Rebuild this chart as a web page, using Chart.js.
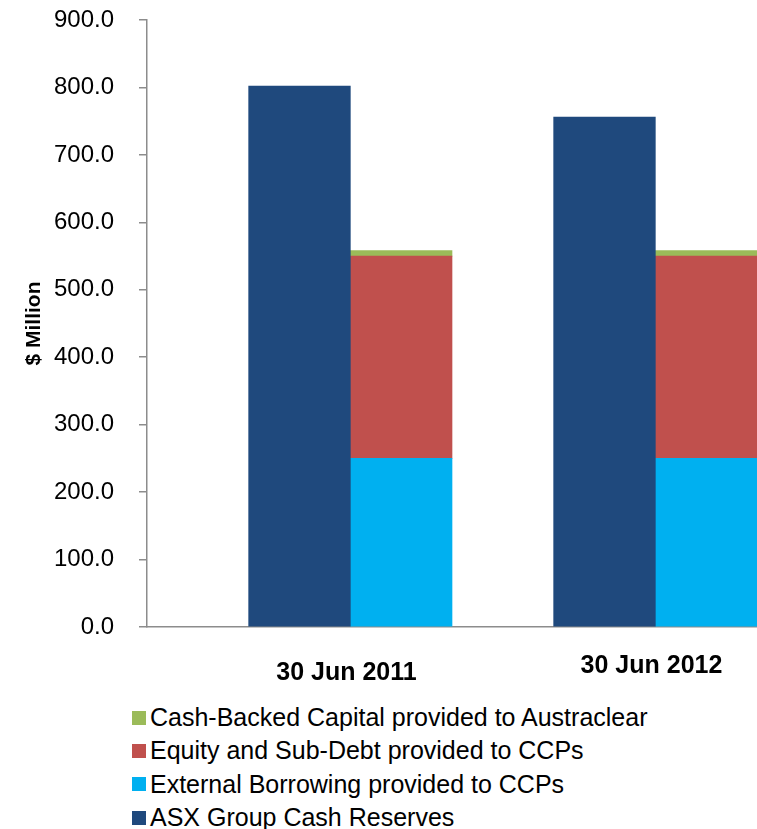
<!DOCTYPE html>
<html>
<head>
<meta charset="utf-8">
<script src="https://cdn.jsdelivr.net/npm/chart.js@4/dist/chart.umd.min.js"></script>
<style>
  html, body { margin: 0; padding: 0; background: #fff; }
  #wrap { position: relative; width: 757px; height: 829px; overflow: hidden; }
  #c { position: absolute; left: 0; top: 0; }
  #legend { position: absolute; left: 132px; top: 701px; font-family: "Liberation Sans", Arial, sans-serif; font-size: 25px; color: #000; }
  #legend .item { height: 33.3px; line-height: 33.3px; white-space: nowrap; display: flex; align-items: center; }
  #legend .box { width: 14px; height: 14px; margin-right: 4px; flex: none; }
</style>
</head>
<body>
<div id="wrap">
  <canvas id="c" width="757" height="700"></canvas>
  <div id="legend"></div>
</div>
<script>
const categories = ['30 Jun 2011', '30 Jun 2012'];
const asxCashReserves = [802, 756];
const externalBorrowing = [250, 250];
const equitySubDebt = [300, 300];
const cashBackedCapital = [8, 8];
const emptySlot = [null, null];
const yTicksMin = 0, yTicksMax = 900, yTicksStep = 100;

const FONT = '"Liberation Sans", Arial, sans-serif';
const AXIS = '#8c8c8c';

const datasets = [
  { label: '', data: emptySlot, stack: 's0', backgroundColor: 'rgba(0,0,0,0)', inLegend: false },
  { label: 'ASX Group Cash Reserves', data: asxCashReserves, stack: 's1', backgroundColor: '#1F497D' },
  { label: 'External Borrowing provided to CCPs', data: externalBorrowing, stack: 's2', backgroundColor: '#00B0F0' },
  { label: 'Equity and Sub-Debt provided to CCPs', data: equitySubDebt, stack: 's2', backgroundColor: '#C0504D' },
  { label: 'Cash-Backed Capital provided to Austraclear', data: cashBackedCapital, stack: 's2', backgroundColor: '#9BBB59' }
];

const chart = new Chart(document.getElementById('c'), {
  type: 'bar',
  data: {
    labels: categories,
    datasets: datasets.map(d => ({
      label: d.label, data: d.data, stack: d.stack,
      backgroundColor: d.backgroundColor, borderWidth: 0,
      categoryPercentage: 1.0, barPercentage: 1.0
    }))
  },
  options: {
    responsive: false,
    animation: false,
    layout: { padding: { top: 20, right: 0, bottom: 0, left: 0 } },
    plugins: { legend: { display: false }, tooltip: { enabled: false } },
    scales: {
      x: {
        stacked: true,
        offset: true,
        afterFit: s => { s.height = 73; },
        grid: { display: false, drawTicks: false },
        border: { display: true, color: AXIS, width: 1.5 },
        ticks: {
          color: '#000',
          padding: 24,
          labelOffset: 47,
          maxRotation: 0,
          font: ctx => ({ family: FONT, size: 25, weight: 'bold', lineHeight: ctx.index === 0 ? 1.75 : 1.2 })
        }
      },
      y: {
        stacked: true,
        min: yTicksMin,
        max: yTicksMax,
        afterFit: s => { s.width = 147; s.paddingTop = 0; s.paddingBottom = 0; },
        grid: { drawOnChartArea: false, drawTicks: true, tickLength: 8, color: AXIS, lineWidth: 1.5 },
        border: { display: true, color: AXIS, width: 1.5 },
        ticks: {
          stepSize: yTicksStep,
          color: '#000',
          padding: 25,
          font: { family: FONT, size: 24 },
          callback: v => Number(v).toFixed(1)
        },
        title: {
          display: true,
          text: '$ Million',
          color: '#000',
          padding: { top: 22, bottom: 0 },
          font: { family: FONT, size: 21, weight: 'bold' }
        }
      }
    }
  }
});

// HTML legend (reverse dataset order, as in the reference)
const legendEl = document.getElementById('legend');
datasets.filter(d => d.inLegend !== false).slice().reverse().forEach(d => {
  const item = document.createElement('div');
  item.className = 'item';
  const box = document.createElement('span');
  box.className = 'box';
  box.style.background = d.backgroundColor;
  const txt = document.createElement('span');
  txt.textContent = d.label;
  item.appendChild(box);
  item.appendChild(txt);
  legendEl.appendChild(item);
});
</script>
</body>
</html>
